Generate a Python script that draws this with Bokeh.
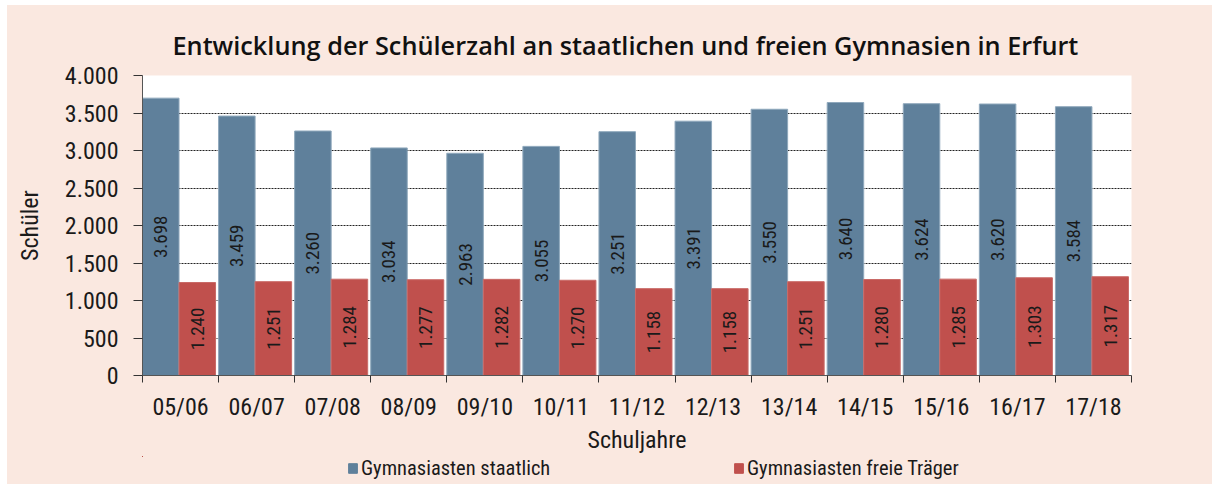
import math
from bokeh.plotting import figure
from bokeh.layouts import column
from bokeh.models import (ColumnDataSource, FixedTicker, Legend, LegendItem, Range1d, Title)
from bokeh.core.properties import value
from bokeh.embed import file_html
from bokeh.resources import INLINE

# ---- data ----
years = ["05/06", "06/07", "07/08", "08/09", "09/10", "10/11", "11/12",
         "12/13", "13/14", "14/15", "15/16", "16/17", "17/18"]
staatlich = [3698, 3459, 3260, 3034, 2963, 3055, 3251, 3391, 3550, 3640, 3624, 3620, 3584]
frei = [1240, 1251, 1284, 1277, 1282, 1270, 1158, 1158, 1251, 1280, 1285, 1303, 1317]
y_ticks = [0, 500, 1000, 1500, 2000, 2500, 3000, 3500, 4000]
y_tick_labels = ["0", "500", "1.000", "1.500", "2.000", "2.500", "3.000", "3.500", "4.000"]
series_names = ["Gymnasiasten staatlich", "Gymnasiasten freie Träger"]
title_text = "Entwicklung der Schülerzahl an staatlichen und freien Gymnasien in Erfurt"
x_title = "Schuljahre"
y_title = "Schüler"

def de(v):
    return f"{v:,}".replace(",", ".")

BLUE = "#5F809B"
RED = "#C0504D"
BG = "#FAE8E0"
NARROW = "Roboto Condensed"
TXT = "#1a1a1a"

n = len(years)
w = 0.48
idx = list(range(n))
src = ColumnDataSource(dict(
    xb=[i + w / 2 for i in idx],
    xr=[i + 1.5 * w for i in idx],
    s=staatlich, f=frei,
    sh=[v / 2 for v in staatlich], fh=[v / 2 for v in frei],
    sl=[de(v) for v in staatlich], fl=[de(v) for v in frei],
))

p = figure(output_backend="svg", toolbar_location=None,
           frame_width=989, frame_height=300,
           min_border_left=135, min_border_right=81,
           min_border_top=70, min_border_bottom=78,
           x_range=Range1d(0, n), y_range=Range1d(0, 4000))
p.border_fill_color = BG
p.background_fill_color = "white"
p.outline_line_color = None

rb = p.vbar(x="xb", top="s", width=w, source=src, fill_color=BLUE,
            line_color="#8FA8BC", line_width=1)
rr = p.vbar(x="xr", top="f", width=w, source=src, fill_color=RED,
            line_color="#C96A67", line_width=1)

for xcol, ycol, tcol in (("xb", "sh", "sl"), ("xr", "fh", "fl")):
    p.text(x=xcol, y=ycol, text=tcol, source=src, angle=math.pi / 2,
           text_align="center", text_baseline="middle",
           text_font=value(NARROW), text_font_size="19px", text_color=TXT)

# x axis: labels at centres, ticks at category boundaries (minor ticks)
xa = p.xaxis[0]
xa.ticker = FixedTicker(ticks=[i + 0.5 for i in idx], minor_ticks=list(range(n + 1)))
xa.major_label_overrides = {i + 0.5: years[i] for i in idx}
xa.major_tick_out = 0
xa.major_tick_in = 0
xa.minor_tick_out = 7
xa.minor_tick_in = 0
xa.minor_tick_line_color = "#333333"
xa.axis_line_color = "#555555"
xa.major_label_text_font = NARROW
xa.major_label_text_font_size = "24px"
xa.major_label_text_color = TXT
xa.major_label_standoff = 10
xa.axis_label = x_title
xa.axis_label_text_font = NARROW
xa.axis_label_text_font_size = "24px"
xa.axis_label_text_font_style = "normal"
xa.axis_label_text_color = TXT
xa.axis_label_standoff = 2

ya = p.yaxis[0]
ya.ticker = FixedTicker(ticks=y_ticks, minor_ticks=[])
ya.major_label_overrides = {t: l for t, l in zip(y_ticks, y_tick_labels)}
ya.major_tick_out = 9
ya.major_tick_in = 0
ya.major_tick_line_color = "#333333"
ya.axis_line_color = "#555555"
ya.major_label_text_font = NARROW
ya.major_label_text_font_size = "24px"
ya.major_label_text_color = TXT
ya.major_label_standoff = 15
ya.axis_label = y_title
ya.axis_label_text_font = NARROW
ya.axis_label_text_font_size = "24px"
ya.axis_label_text_font_style = "normal"
ya.axis_label_text_color = TXT
ya.axis_label_standoff = 18

p.xgrid.grid_line_color = None
p.ygrid.grid_line_color = "#222222"
p.ygrid.grid_line_dash = "2 1"
p.ygrid.grid_line_width = 1

p.add_layout(Title(text=title_text, align="left", offset=30, standoff=27,
                   text_font="Open Sans SemiBold", text_font_style="normal",
                   text_font_size="25.3px", text_color="#111111"), "above")

# legend strip below the chart (proxy bars lie far outside its visible ranges)
pl = figure(output_backend="svg", toolbar_location=None, width=1205, height=28,
            min_border=0, x_axis_location=None, y_axis_location=None,
            x_range=Range1d(100, 101), y_range=Range1d(-10, -9))
pl.border_fill_color = BG
pl.background_fill_color = BG
pl.outline_line_color = None
pl.xgrid.visible = False
pl.ygrid.visible = False
db = pl.vbar(x="xb", top="s", width=w, source=src, fill_color=BLUE, line_color=BLUE)
dr = pl.vbar(x="xr", top="f", width=w, source=src, fill_color=RED, line_color=RED)

legend = Legend(items=[LegendItem(label=series_names[0], renderers=[db]),
                       LegendItem(label=series_names[1], renderers=[dr])],
                location=(205, 4), orientation="horizontal",
                padding=0, margin=0, spacing=0,
                glyph_width=11, glyph_height=12, label_standoff=3, label_width=372,
                label_text_font=NARROW, label_text_font_size="20.5px",
                label_text_color=TXT,
                background_fill_alpha=0, border_line_color=None)
pl.add_layout(legend, "center")

layout = column(p, pl, spacing=0, margin=(5, 0, 0, 7), styles={"background-color": BG})
open("out.html", "w").write(file_html(layout, INLINE))
